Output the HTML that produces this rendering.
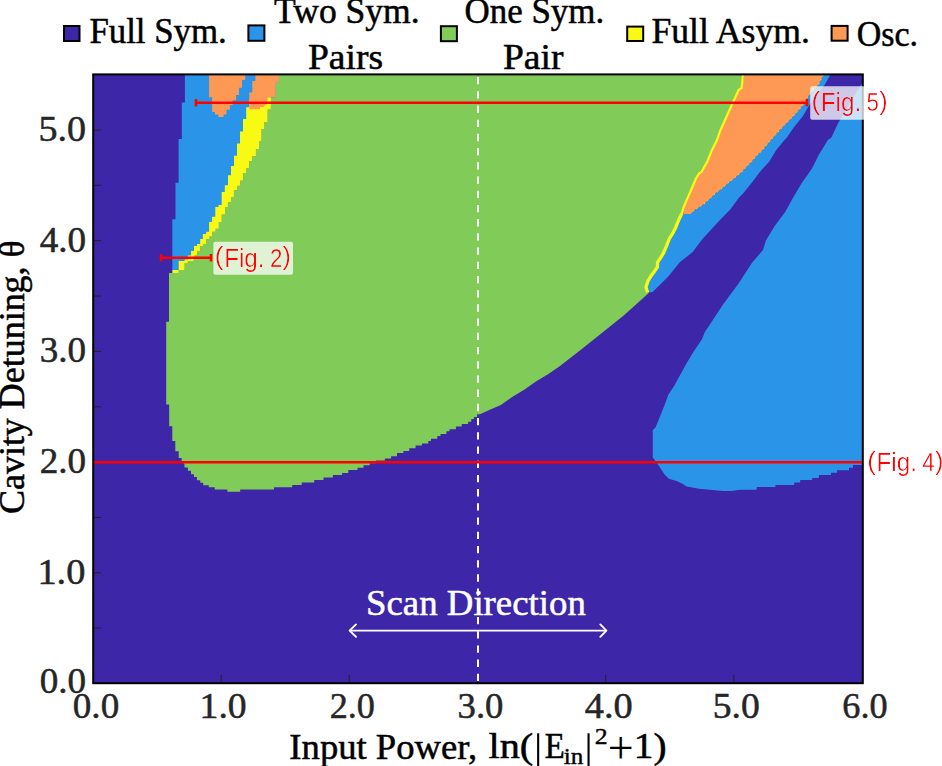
<!DOCTYPE html>
<html><head><meta charset="utf-8"><style>
html,body{margin:0;padding:0;background:#fff;}
svg{display:block;}
text{font-family:"Liberation Serif",serif;}
.tk{font-size:35px;fill:#262626;stroke:#262626;stroke-width:0.5px;}
.lg{font-size:35px;fill:#000;stroke:#000;stroke-width:0.5px;}
.fg{font-family:"Liberation Sans",sans-serif;font-size:25px;fill:#ff0000;}
</style></head><body>
<svg width="942" height="766" viewBox="0 0 942 766">

<rect x="93" y="74" width="770" height="609" fill="#3d26a8"/>
<polygon fill="#2a94e8" points="184.9,75.0 281.0,75.0 281.0,97.3 270.9,97.3 270.9,109.6 267.6,109.6 267.6,122.1 264.4,122.1 264.4,128.9 261.5,128.9 261.5,141.0 259.0,141.0 259.0,148.9 255.9,148.9 255.9,155.9 252.3,155.9 252.3,160.9 249.1,160.9 249.1,168.0 246.0,168.0 246.0,172.9 243.1,172.9 243.1,180.5 240.3,180.5 240.3,185.8 237.4,185.8 237.4,190.3 233.9,190.3 233.9,197.0 231.0,197.0 231.0,202.3 227.9,202.3 227.9,207.0 225.0,207.0 225.0,214.4 221.7,214.4 221.7,222.0 218.8,222.0 218.8,228.8 215.6,228.8 215.6,231.7 212.3,231.7 212.3,236.4 209.4,236.4 209.4,239.0 206.1,239.0 206.1,243.9 202.9,243.9 202.9,245.9 200.2,245.9 200.2,251.1 197.0,251.1 197.0,255.5 194.5,255.5 194.5,259.6 193.7,259.6 193.7,260.9 187.8,260.9 187.8,262.9 184.6,262.9 184.6,270.0 178.7,270.0 178.7,273.0 172.3,273.0 172.3,219.3 175.5,219.3 175.5,182.8 178.6,182.8 178.6,138.9 181.8,138.9 181.8,102.4 184.9,102.4"/>
<polygon fill="#81cb59" points="278.9,75.0 743.0,75.0 741.6,88.0 738.5,90.2 729.4,110.3 720.3,130.5 717.0,140.0 711.7,150.6 707.4,161.2 701.6,171.8 699.3,173.4 695.9,178.5 692.9,185.7 690.0,192.5 686.6,200.1 683.5,207.4 681.8,213.6 678.7,219.9 675.6,227.7 672.4,234.0 669.3,238.7 666.6,245.8 663.4,253.2 660.3,258.3 657.5,262.2 657.5,267.0 654.0,272.0 651.0,276.0 648.0,281.0 646.0,287.0 647.5,292.5 649.7,292.1 644.9,296.4 634.3,305.9 623.7,315.5 602.5,332.5 581.2,349.4 560.0,365.9 547.6,374.5 535.9,381.5 524.2,389.7 512.5,396.7 500.9,404.9 489.2,410.1 480.0,414.3 477.1,414.3 477.1,417.0 474.0,417.0 474.0,419.1 471.3,419.1 471.3,421.8 468.1,421.8 468.1,423.9 461.7,423.9 461.7,426.5 455.9,426.5 455.9,429.2 449.5,429.2 449.5,431.3 446.4,431.3 446.4,434.0 440.5,434.0 440.5,436.1 437.3,436.1 437.3,438.7 431.0,438.7 431.0,440.9 428.3,440.9 428.3,443.5 421.9,443.5 421.9,445.6 415.6,445.6 415.6,448.3 409.2,448.3 409.2,451.0 403.4,451.0 403.4,453.1 397.0,453.1 397.0,456.3 391.1,456.3 391.1,458.4 384.8,458.4 384.8,460.6 375.8,460.6 375.8,463.2 369.7,463.2 369.7,465.3 363.6,465.3 363.6,467.8 357.5,467.8 357.5,470.1 348.3,470.1 348.3,472.9 342.1,472.9 342.1,475.1 332.9,475.1 332.9,477.6 323.5,477.6 323.5,480.1 314.2,480.1 314.2,482.5 301.7,482.5 301.7,485.1 292.2,485.1 292.2,487.3 274.0,487.3 274.0,489.5 240.2,489.5 240.2,491.7 227.4,491.7 227.4,489.5 214.7,489.5 214.7,487.3 208.8,487.3 208.8,485.3 203.2,485.3 203.2,482.7 200.3,482.7 200.3,480.2 196.9,480.2 196.9,477.1 194.0,477.1 194.0,474.2 191.0,474.2 191.0,470.8 187.9,470.8 187.9,467.5 184.5,467.5 184.5,464.0 181.6,462.0 181.6,458.1 178.7,458.1 178.7,451.3 175.3,451.3 175.3,441.1 172.3,441.1 172.3,426.2 169.2,426.2 169.2,404.6 166.2,404.6 166.2,321.7 169.0,321.7 169.0,273.0 178.7,273.0 178.7,270.0 184.6,270.0 184.6,262.9 187.8,262.9 187.8,260.9 193.7,260.9 193.7,259.6 194.5,259.6 194.5,255.5 197.0,255.5 197.0,251.1 200.2,251.1 200.2,245.9 202.9,245.9 202.9,243.9 206.1,243.9 206.1,239.0 209.4,239.0 209.4,236.4 212.3,236.4 212.3,231.7 215.6,231.7 215.6,228.8 218.8,228.8 218.8,222.0 221.7,222.0 221.7,214.4 225.0,214.4 225.0,207.0 227.9,207.0 227.9,202.3 231.0,202.3 231.0,197.0 233.9,197.0 233.9,190.3 237.4,190.3 237.4,185.8 240.3,185.8 240.3,180.5 243.1,180.5 243.1,172.9 246.0,172.9 246.0,168.0 249.1,168.0 249.1,160.9 252.3,160.9 252.3,155.9 255.9,155.9 255.9,148.9 259.0,148.9 259.0,141.0 261.5,141.0 261.5,128.9 264.4,128.9 264.4,122.1 267.6,122.1 267.6,109.6 270.9,109.6 270.9,97.3 275.7,97.3 275.7,82.5 278.9,82.5"/>
<polygon fill="#f8fa14" points="246.2,107.3 249.3,107.3 249.3,100.0 266.2,97.3 270.9,97.3 270.9,109.6 267.6,109.6 267.6,122.1 264.4,122.1 264.4,128.9 261.5,128.9 261.5,141.0 259.0,141.0 259.0,148.9 255.9,148.9 255.9,155.9 252.3,155.9 252.3,160.9 249.1,160.9 249.1,168.0 246.0,168.0 246.0,172.9 243.1,172.9 243.1,180.5 240.3,180.5 240.3,185.8 237.4,185.8 237.4,190.3 233.9,190.3 233.9,197.0 231.0,197.0 231.0,202.3 227.9,202.3 227.9,207.0 225.0,207.0 225.0,214.4 221.7,214.4 221.7,222.0 218.8,222.0 218.8,228.8 215.6,228.8 215.6,231.7 212.3,231.7 212.3,236.4 209.4,236.4 209.4,239.0 206.1,239.0 206.1,243.9 202.9,243.9 202.9,245.9 200.2,245.9 200.2,251.1 197.0,251.1 197.0,255.5 194.5,255.5 194.5,259.6 193.7,259.6 193.7,260.9 187.8,260.9 187.8,262.9 184.6,262.9 184.6,270.0 178.7,270.0 178.7,273.0 172.5,273.0 172.5,270.0 178.7,270.0 178.7,260.9 184.6,260.9 184.6,259.6 187.8,259.6 187.8,255.5 191.1,255.5 191.1,251.1 194.0,251.1 194.0,245.9 197.0,245.9 197.0,243.9 200.2,243.9 200.2,239.0 202.9,239.0 202.9,234.0 206.2,234.0 206.2,231.7 209.1,231.7 209.1,222.0 212.0,222.0 212.0,216.7 215.3,216.7 215.3,207.0 218.5,207.0 218.5,205.0 221.7,205.0 221.7,192.0 224.8,192.0 224.8,185.2 228.0,185.2 228.0,175.2 231.0,175.2 231.0,166.0 234.0,166.0 234.0,155.8 237.0,155.8 237.0,143.6 240.0,143.6 240.0,131.5 243.0,131.5 243.0,119.0 246.2,119.0 246.2,107.0"/>
<polygon fill="#fe9955" points="209.1,75.0 245.2,75.0 245.2,80.1 242.0,80.1 242.0,87.8 239.0,87.8 239.0,94.9 236.1,94.9 236.1,100.2 232.7,100.2 232.7,105.0 229.9,105.0 229.9,109.7 226.5,109.7 226.5,114.5 223.5,114.5 223.5,116.9 218.4,116.9 218.4,114.5 215.0,114.5 215.0,112.1 212.2,112.1 212.2,97.3 209.1,97.3"/>
<polygon fill="#fe9955" points="255.4,75.0 278.9,75.0 278.9,82.5 275.7,82.5 275.7,97.3 267.6,97.3 267.6,100.0 266.2,104.0 263.3,106.9 260.0,106.9 260.0,109.3 249.3,109.3 249.3,92.5 252.3,92.5 252.3,81.1 255.4,81.1"/>
<polygon fill="#2a94e8" points="830.2,75.0 824.9,84.6 809.0,105.8 802.6,116.5 794.1,127.1 786.7,137.7 784.5,140.0 775.9,150.6 769.5,161.2 760.0,171.8 752.0,182.5 743.5,193.1 738.7,197.9 730.0,209.8 717.8,222.3 702.1,239.6 692.7,252.1 680.0,262.0 667.6,277.2 652.6,292.0 647.5,292.5 646.0,287.0 648.0,281.0 651.0,276.0 654.0,272.0 657.5,267.0 657.5,262.2 660.3,258.3 663.4,253.2 666.6,245.8 669.3,238.7 672.4,234.0 675.6,227.7 678.7,219.9 681.8,213.6 683.2,214.0 690.8,214.0 694.6,209.9 704.0,204.0 710.1,198.4 715.9,193.1 722.8,187.8 728.7,182.5 735.6,177.2 741.9,171.8 746.7,166.5 752.0,161.2 756.3,155.9 762.1,150.6 770.9,140.0 772.9,137.7 782.5,127.1 793.1,116.5 802.6,105.8 809.0,95.2 818.6,84.6 823.3,75.0"/>
<polygon fill="#2a94e8" points="862.0,84.0 860.6,85.6 840.1,119.7 837.7,123.9 831.3,137.7 827.9,140.0 819.0,154.4 811.8,168.7 801.8,183.1 793.2,197.5 785.3,211.8 774.5,226.2 765.9,240.6 763.0,250.0 752.2,262.6 738.6,283.5 723.0,304.4 709.4,325.3 704.8,332.0 702.1,338.9 693.2,352.2 686.6,363.3 680.4,374.4 674.4,385.5 668.4,394.4 664.4,405.5 660.0,416.6 655.5,427.6 652.8,429.9 652.8,457.6 655.5,461.0 660.0,467.6 664.4,474.3 668.8,478.7 676.6,480.9 683.2,484.2 686.6,486.5 698.8,488.7 723.2,490.9 732.0,490.9 740.0,489.8 756.7,489.8 756.7,487.1 775.4,487.1 775.4,485.1 794.2,485.1 794.2,482.5 800.2,482.5 800.2,479.9 812.2,479.9 812.2,477.9 818.9,477.9 818.9,475.0 831.0,475.0 831.0,472.8 837.0,472.8 837.0,470.2 849.0,470.2 849.0,467.8 853.0,467.8 853.0,465.1 862.0,465.1"/>
<polygon fill="#fe9955" points="823.3,75.0 818.6,84.6 809.0,95.2 802.6,105.8 793.1,116.5 782.5,127.1 772.9,137.7 770.9,140.0 762.1,150.6 756.3,155.9 752.0,161.2 746.7,166.5 741.9,171.8 735.6,177.2 728.7,182.5 722.8,187.8 715.9,193.1 710.1,198.4 704.0,204.0 694.6,209.9 690.8,214.0 683.2,214.0 683.2,207.4 686.6,200.1 690.0,192.5 692.9,185.7 695.9,178.5 699.3,173.4 701.6,171.8 707.4,161.2 711.7,150.6 717.0,140.0 720.3,130.5 729.4,110.3 738.5,90.2 741.6,88.0 744.2,75.0"/>
<polyline fill="none" stroke="#f8fa14" stroke-width="3.3" points="647.5,292.5 646.0,287.0 648.0,281.0 651.0,276.0 654.0,272.0 657.5,267.0 657.5,262.2 660.3,258.3 663.4,253.2 666.6,245.8 669.3,238.7 672.4,234.0 675.6,227.7 678.7,219.9 681.8,213.6"/>
<polyline fill="none" stroke="#f8fa14" stroke-width="2.2" points="681.8,213.6 683.5,207.4 686.6,200.1 690.0,192.5 692.9,185.7 695.9,178.5 699.3,173.4 701.6,171.8 707.4,161.2 711.7,150.6 717.0,140.0 720.3,130.5 729.4,110.3 738.5,90.2 741.6,88.0 743.0,75.0"/>
<polyline fill="none" stroke="#f8fa14" stroke-width="1" stroke-dasharray="1.5 3" opacity="0.8" points="823.3,75.0 818.6,84.6 809.0,95.2 802.6,105.8 793.1,116.5 782.5,127.1 772.9,137.7 770.9,140.0 762.1,150.6 756.3,155.9 752.0,161.2 746.7,166.5 741.9,171.8 735.6,177.2 728.7,182.5 722.8,187.8 715.9,193.1 710.1,198.4 704.0,204.0 694.6,209.9 690.8,214.0"/>

<line x1="221.2" y1="682" x2="221.2" y2="675" stroke="#222" stroke-width="1"/><line x1="349.3" y1="682" x2="349.3" y2="675" stroke="#222" stroke-width="1"/><line x1="477.5" y1="682" x2="477.5" y2="675" stroke="#222" stroke-width="1"/><line x1="605.7" y1="682" x2="605.7" y2="675" stroke="#222" stroke-width="1"/><line x1="733.8" y1="682" x2="733.8" y2="675" stroke="#222" stroke-width="1"/><line x1="94" y1="628.1" x2="101" y2="628.1" stroke="#222" stroke-width="1"/><line x1="94" y1="572.8" x2="101" y2="572.8" stroke="#222" stroke-width="1"/><line x1="94" y1="517.5" x2="101" y2="517.5" stroke="#222" stroke-width="1"/><line x1="94" y1="462.1" x2="101" y2="462.1" stroke="#222" stroke-width="1"/><line x1="94" y1="406.8" x2="101" y2="406.8" stroke="#222" stroke-width="1"/><line x1="94" y1="351.4" x2="101" y2="351.4" stroke="#222" stroke-width="1"/><line x1="94" y1="296.1" x2="101" y2="296.1" stroke="#222" stroke-width="1"/><line x1="94" y1="240.7" x2="101" y2="240.7" stroke="#222" stroke-width="1"/><line x1="94" y1="185.3" x2="101" y2="185.3" stroke="#222" stroke-width="1"/><line x1="94" y1="130.0" x2="101" y2="130.0" stroke="#222" stroke-width="1"/>
<line x1="478" y1="77" x2="478" y2="682" stroke="#fff" stroke-width="2" stroke-dasharray="7.3 6.91"/>
<!-- red fig lines -->
<line x1="94" y1="462.3" x2="862" y2="462.3" stroke="#ff0000" stroke-width="2.6"/>
<line x1="196" y1="102.7" x2="807" y2="102.7" stroke="#ff0000" stroke-width="2.6"/>
<line x1="196" y1="99" x2="196" y2="106.4" stroke="#ff0000" stroke-width="2.6"/>
<line x1="807" y1="99" x2="807" y2="106.4" stroke="#ff0000" stroke-width="2.6"/>
<line x1="161" y1="257.7" x2="211" y2="257.7" stroke="#ff0000" stroke-width="2.6"/>
<line x1="161" y1="254" x2="161" y2="261.4" stroke="#ff0000" stroke-width="2.6"/>
<line x1="211" y1="254" x2="211" y2="261.4" stroke="#ff0000" stroke-width="2.6"/>
<!-- scan direction -->
<text transform="translate(366.03,615.00) scale(1.0228,1)" text-anchor="start" style="font-size:36px;fill:#fff;stroke:#fff;stroke-width:0.5px;">Scan Direction</text>
<line x1="350" y1="630.6" x2="606" y2="630.6" stroke="#fff" stroke-width="1.9"/>
<polyline fill="none" stroke="#fff" stroke-width="1.9" stroke-linecap="round" stroke-linejoin="round" points="356,624.4 349.6,630.6 356,636.8"/>
<polyline fill="none" stroke="#fff" stroke-width="1.9" stroke-linecap="round" stroke-linejoin="round" points="600.3,624.4 606.4,630.6 600.3,636.8"/>
<!-- frame -->
<rect x="93.2" y="74.4" width="769.6" height="608.8" fill="none" stroke="#000" stroke-width="2"/>
<!-- fig label boxes -->
<rect x="213.4" y="241.7" width="79.6" height="33" rx="2" fill="#fff" fill-opacity="0.75"/>
<rect x="810.2" y="86.2" width="79" height="33.6" rx="2" fill="#fff" fill-opacity="0.75"/>
<mask id="m2" maskUnits="userSpaceOnUse" x="0" y="0" width="942" height="766"><text transform="translate(214.83,265.40) scale(1.0333,1)" class="fg" style="fill:#fff;stroke:#000;stroke-width:0.25px">(</text><text transform="translate(224.16,266.80) scale(0.9703,1)" class="fg" style="fill:#fff;stroke:#000;stroke-width:0.25px">Fig.</text><text transform="translate(270.01,266.80) scale(0.8917,1)" class="fg" style="fill:#fff;stroke:#000;stroke-width:0.25px">2</text><text transform="translate(282.83,265.40) scale(0.9667,1)" class="fg" style="fill:#fff;stroke:#000;stroke-width:0.25px">)</text></mask><g mask="url(#m2)"><text transform="translate(214.83,265.40) scale(1.0333,1)" class="fg">(</text><text transform="translate(224.16,266.80) scale(0.9703,1)" class="fg">Fig.</text><text transform="translate(270.01,266.80) scale(0.8917,1)" class="fg">2</text><text transform="translate(282.83,265.40) scale(0.9667,1)" class="fg">)</text></g><mask id="m5" maskUnits="userSpaceOnUse" x="0" y="0" width="942" height="766"><text transform="translate(811.43,109.80) scale(1.0333,1)" class="fg" style="fill:#fff;stroke:#000;stroke-width:0.25px">(</text><text transform="translate(820.76,111.20) scale(0.9703,1)" class="fg" style="fill:#fff;stroke:#000;stroke-width:0.25px">Fig.</text><text transform="translate(866.61,111.20) scale(0.8917,1)" class="fg" style="fill:#fff;stroke:#000;stroke-width:0.25px">5</text><text transform="translate(879.43,109.80) scale(0.9667,1)" class="fg" style="fill:#fff;stroke:#000;stroke-width:0.25px">)</text></mask><g mask="url(#m5)"><text transform="translate(811.43,109.80) scale(1.0333,1)" class="fg">(</text><text transform="translate(820.76,111.20) scale(0.9703,1)" class="fg">Fig.</text><text transform="translate(866.61,111.20) scale(0.8917,1)" class="fg">5</text><text transform="translate(879.43,109.80) scale(0.9667,1)" class="fg">)</text></g><mask id="m4" maskUnits="userSpaceOnUse" x="0" y="0" width="942" height="766"><text transform="translate(867.13,469.50) scale(1.0333,1)" class="fg" style="fill:#fff;stroke:#000;stroke-width:0.25px">(</text><text transform="translate(876.46,470.90) scale(0.9703,1)" class="fg" style="fill:#fff;stroke:#000;stroke-width:0.25px">Fig.</text><text transform="translate(922.31,470.90) scale(0.8917,1)" class="fg" style="fill:#fff;stroke:#000;stroke-width:0.25px">4</text><text transform="translate(935.13,469.50) scale(0.9667,1)" class="fg" style="fill:#fff;stroke:#000;stroke-width:0.25px">)</text></mask><g mask="url(#m4)"><text transform="translate(867.13,469.50) scale(1.0333,1)" class="fg">(</text><text transform="translate(876.46,470.90) scale(0.9703,1)" class="fg">Fig.</text><text transform="translate(922.31,470.90) scale(0.8917,1)" class="fg">4</text><text transform="translate(935.13,469.50) scale(0.9667,1)" class="fg">)</text></g>
<text transform="translate(72.79,717.80) scale(1.0610,1)" text-anchor="start" class="tk">0.0</text><text transform="translate(199.54,717.80) scale(1.0769,1)" text-anchor="start" class="tk">1.0</text><text transform="translate(329.71,717.80) scale(1.0341,1)" text-anchor="start" class="tk">2.0</text><text transform="translate(457.56,717.80) scale(1.0488,1)" text-anchor="start" class="tk">3.0</text><text transform="translate(584.68,717.80) scale(1.0976,1)" text-anchor="start" class="tk">4.0</text><text transform="translate(712.80,717.80) scale(1.0750,1)" text-anchor="start" class="tk">5.0</text><text transform="translate(842.33,717.80) scale(1.0366,1)" text-anchor="start" class="tk">6.0</text>
<text transform="translate(39.64,692.50) scale(1.0610,1)" text-anchor="start" class="tk">0.0</text><text transform="translate(37.41,583.80) scale(1.0974,1)" text-anchor="start" class="tk">1.0</text><text transform="translate(39.64,473.10) scale(1.0610,1)" text-anchor="start" class="tk">2.0</text><text transform="translate(39.64,362.40) scale(1.0610,1)" text-anchor="start" class="tk">3.0</text><text transform="translate(39.64,251.70) scale(1.0610,1)" text-anchor="start" class="tk">4.0</text><text transform="translate(38.53,141.00) scale(1.0875,1)" text-anchor="start" class="tk">5.0</text>
<!-- axis titles -->
<text transform="translate(289.35,758.50) scale(1.0472,1)" text-anchor="start" style="font-size:35px;fill:#000;stroke:#000;stroke-width:0.5px;">Input Power,</text><text transform="translate(488.45,758.40) scale(1.1514,1)" text-anchor="start" style="font-size:35px;fill:#000;stroke:#000;stroke-width:0.5px;">ln(</text><rect x="537.1" y="733.3" width="2.1" height="33" fill="#000"/><text transform="translate(544.66,758.30) scale(0.9368,1)" text-anchor="start" style="font-size:35px;fill:#000;stroke:#000;stroke-width:0.5px;">E</text><text transform="translate(563.65,764.20) scale(1.0471,1)" text-anchor="start" style="font-size:24px;fill:#000;stroke:#000;stroke-width:0.4px;">in</text><rect x="587.5" y="733.3" width="2.1" height="33" fill="#000"/><text transform="translate(594.78,743.90) scale(1.1222,1)" text-anchor="start" style="font-size:23px;fill:#000;stroke:#000;stroke-width:0.4px;">2</text><text transform="translate(607.75,763.00) scale(0.9773,1)" text-anchor="start" style="font-size:47px;fill:#000;">+</text><text transform="translate(633.73,758.10) scale(1.1240,1)" text-anchor="start" style="font-size:35px;fill:#000;stroke:#000;stroke-width:0.5px;">1)</text>
<text transform="translate(24,514) rotate(-90) scale(1.027,1)" style="font-size:35px;fill:#000;stroke:#000;stroke-width:0.5px;">Cavity Detuning, θ</text>
<!-- legend -->
<text transform="translate(89.40,42.60) scale(0.9956,1)" text-anchor="start" class="lg">Full Sym.</text><text transform="translate(273.98,23.40) scale(1.0164,1)" text-anchor="start" class="lg">Two Sym.</text><text transform="translate(307.93,69.00) scale(1.0735,1)" text-anchor="start" class="lg">Pairs</text><text transform="translate(464.50,23.40) scale(0.9978,1)" text-anchor="start" class="lg">One Sym.</text><text transform="translate(502.93,69.00) scale(1.0727,1)" text-anchor="start" class="lg">Pair</text><text transform="translate(651.48,43.40) scale(1.0184,1)" text-anchor="start" class="lg">Full Asym.</text><text transform="translate(856.73,46.30) scale(0.9717,1)" text-anchor="start" class="lg">Osc.</text>
<rect x="64" y="26" width="15.5" height="15" fill="#3d26a8" stroke="#000" stroke-width="2"/>
<rect x="248.4" y="25.4" width="16" height="15.4" fill="#2a94e8" stroke="#000" stroke-width="2"/>
<rect x="440.9" y="26.2" width="16" height="15" fill="#81cb59" stroke="#000" stroke-width="2"/>
<rect x="627.2" y="26.6" width="16" height="14.4" fill="#f8fa14" stroke="#000" stroke-width="2"/>
<rect x="831.6" y="25.9" width="16" height="14.8" fill="#fe9955" stroke="#000" stroke-width="2"/>
</svg>
</body></html>
